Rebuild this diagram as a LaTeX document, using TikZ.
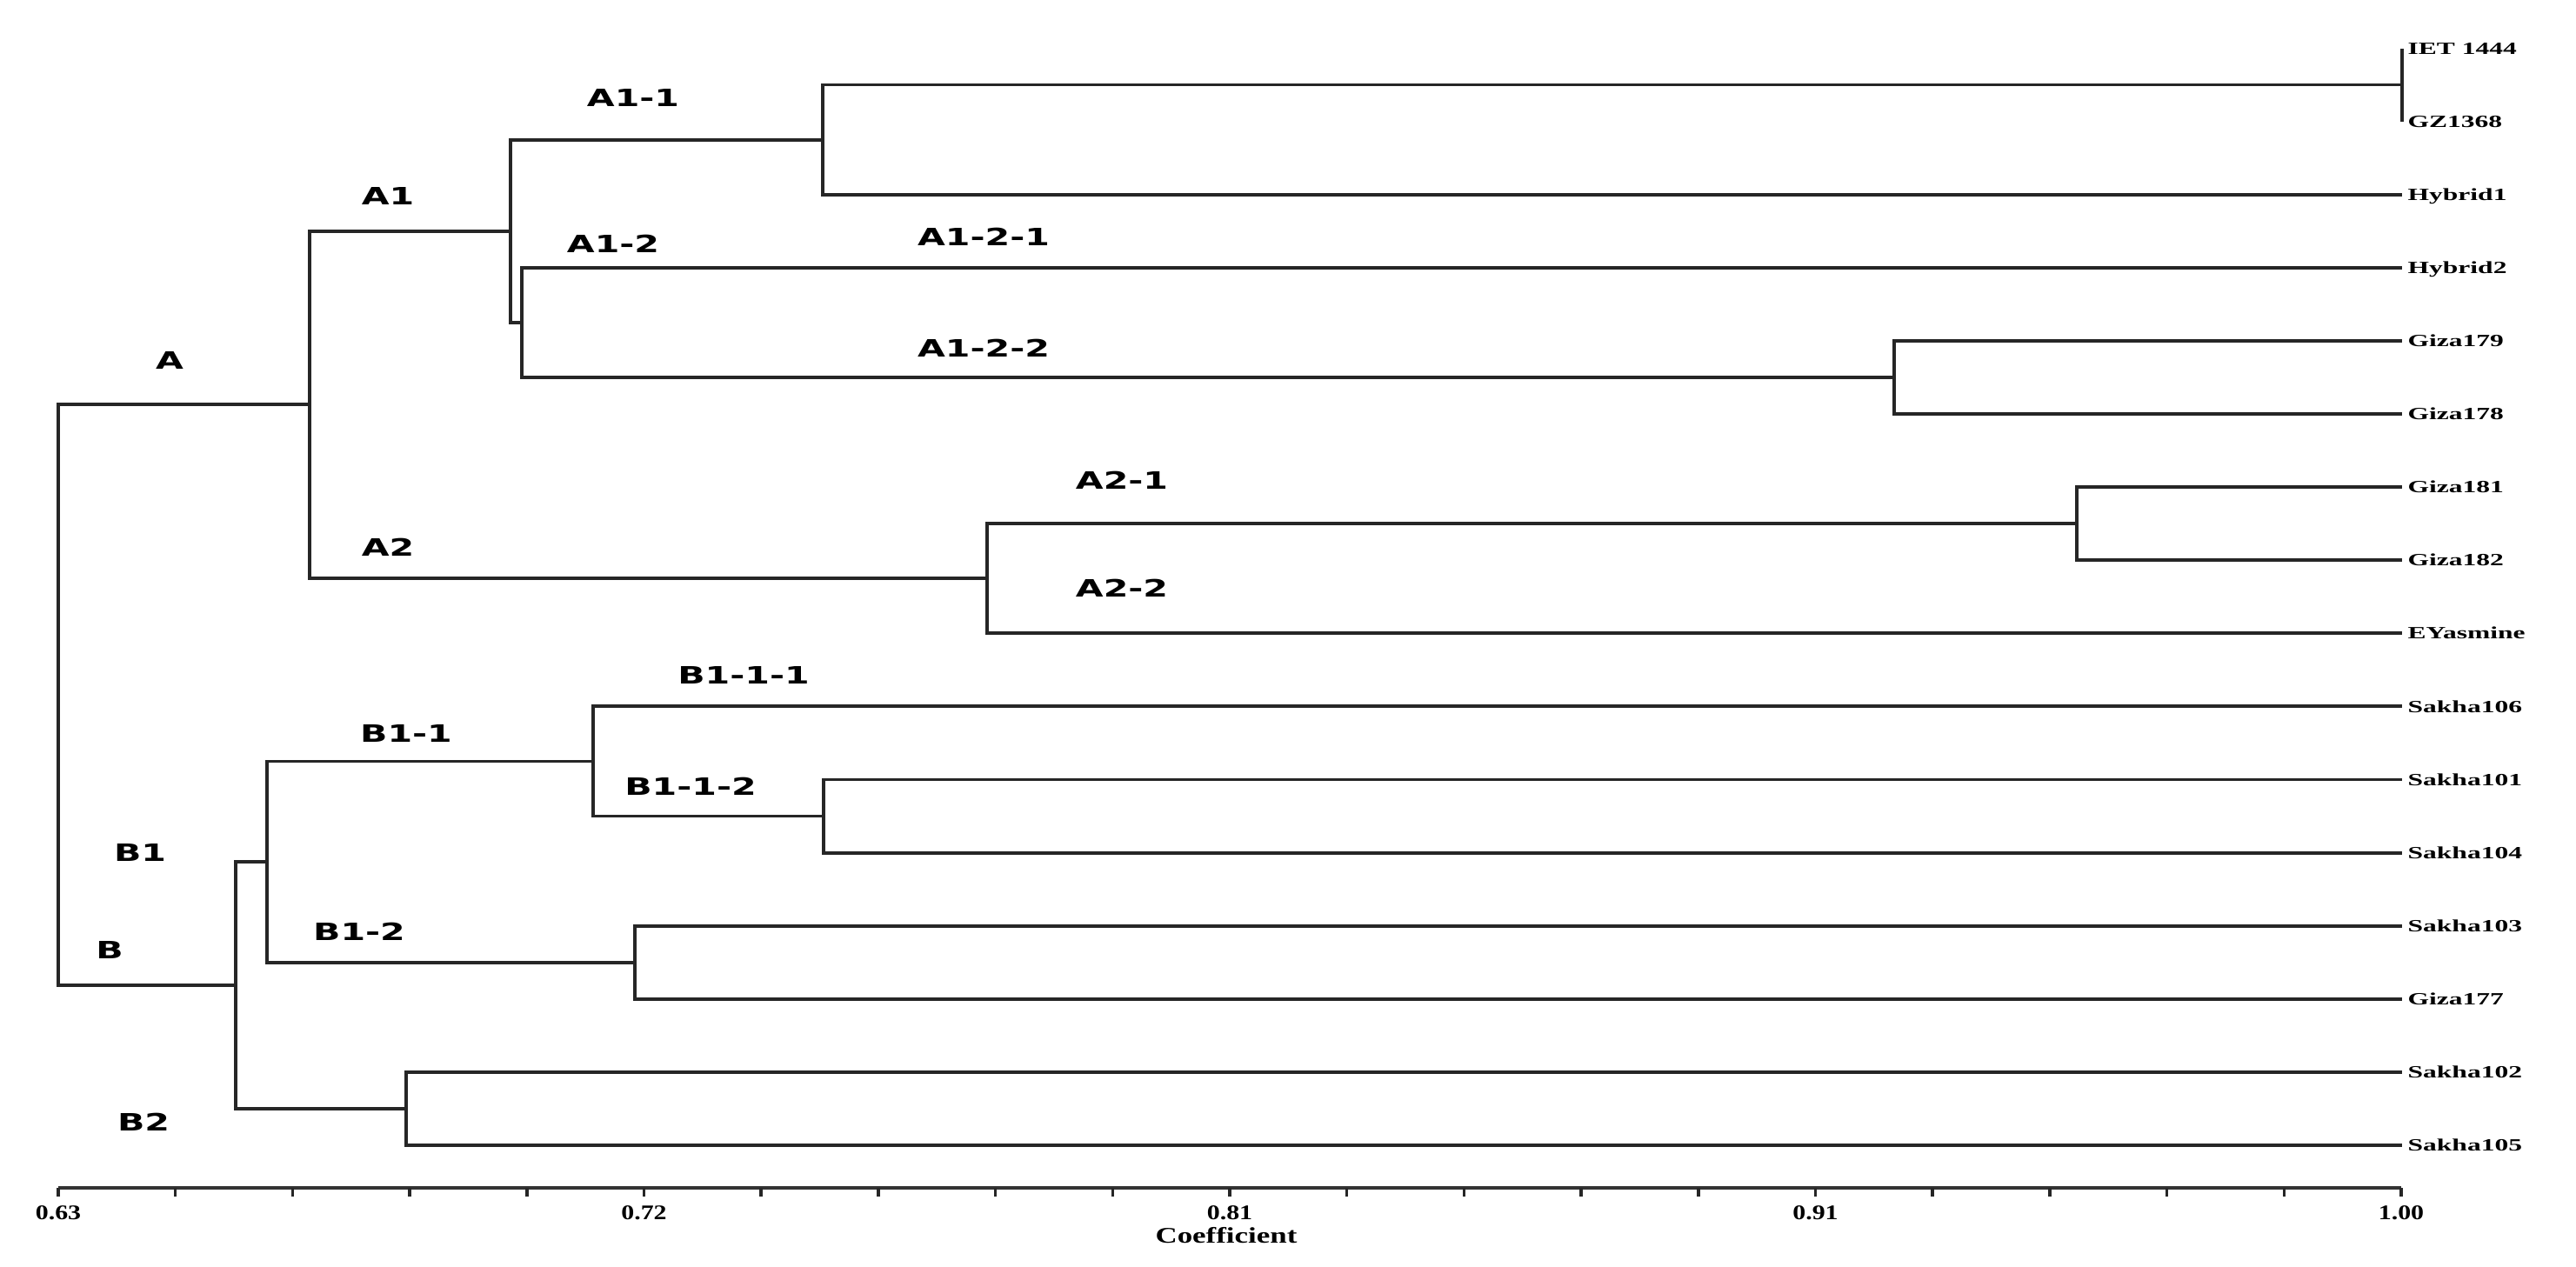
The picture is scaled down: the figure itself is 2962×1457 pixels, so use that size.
\documentclass[tikz,border=0pt]{standalone}
\usepackage{fontspec}
\setmainfont{Liberation Serif}
\newfontfamily\clfont{DejaVu Sans}
\newcommand\clsx[1]{\scalebox{1.5}[1]{#1}}
\newcommand\lfsx[1]{\scalebox{1.6}[1]{#1}}
\newcommand\axsx[1]{\scalebox{1.25}[1]{#1}}
\newcommand\cosx[1]{\scalebox{1.36}[1]{#1}}
\tikzset{
  br/.style={line width=1.1pt, draw=black!85},
  axisline/.style={line width=1.3pt, draw=black!80},
  tickmark/.style={line width=1pt, draw=black!85},
  leaf/.style={anchor=west, inner xsep=1.7pt, inner ysep=0pt, text height=3.8pt, text depth=0pt,
    font=\bfseries\fontsize{5.6}{6}\selectfont},
  cl/.style={inner sep=0pt, font=\clfont\bfseries\fontsize{7.8}{9}\selectfont},
  axl/.style={inner sep=0pt, font=\bfseries\fontsize{6.8}{8}\selectfont},
  coef/.style={inner sep=0pt, font=\bfseries\fontsize{7.3}{8}\selectfont},
}
\begin{document}
\begin{tikzpicture}[x=0.01cm, y=-0.01cm]
\fill[white] (0,0) rectangle (2962,1457);
\useasboundingbox (0,0) rectangle (2962,1457);

% leaves
\node[leaf] (l0)  at (2762,55.5)  {\lfsx{IET 1444}};
\node[leaf] (l1)  at (2762,139.6) {\lfsx{GZ1368}};
\node[leaf] (l2)  at (2762,223.7) {\lfsx{Hybrid1}};
\node[leaf] (l3)  at (2762,307.8) {\lfsx{Hybrid2}};
\node[leaf] (l4)  at (2762,391.9) {\lfsx{Giza179}};
\node[leaf] (l5)  at (2762,476.0) {\lfsx{Giza178}};
\node[leaf] (l6)  at (2762,560.1) {\lfsx{Giza181}};
\node[leaf] (l7)  at (2762,644.2) {\lfsx{Giza182}};
\node[leaf] (l8)  at (2762,728.3) {\lfsx{EYasmine}};
\node[leaf] (l9)  at (2762,812.4) {\lfsx{Sakha106}};
\node[leaf] (l10) at (2762,896.5) {\lfsx{Sakha101}};
\node[leaf] (l11) at (2762,980.6) {\lfsx{Sakha104}};
\node[leaf] (l12) at (2762,1064.7){\lfsx{Sakha103}};
\node[leaf] (l13) at (2762,1148.8){\lfsx{Giza177}};
\node[leaf] (l14) at (2762,1232.9){\lfsx{Sakha102}};
\node[leaf] (l15) at (2762,1317.0){\lfsx{Sakha105}};

% internal nodes
\coordinate (nIG)   at (2762,97.5);
\coordinate (nA11)  at (946,160.6);
\coordinate (nA122) at (2178,434.0);
\coordinate (nA12)  at (600,370.9);
\coordinate (nA1)   at (587,265.7);
\coordinate (nA21)  at (2388,602.2);
\coordinate (nA2)   at (1135,665.2);
\coordinate (nA)    at (356,465.4);
\coordinate (nB112) at (947,938.5);
\coordinate (nB11)  at (682,875.5);
\coordinate (nB12)  at (730,1106.8);
\coordinate (nB1)   at (307,991.1);
\coordinate (nB2)   at (467,1275.0);
\coordinate (nB)    at (271,1133.0);
\coordinate (root)  at (67,799.2);

% connectors
\draw[br] (root) |- (nA);   \draw[br] (root) |- (nB);
\draw[br] (nA) |- (nA1);    \draw[br] (nA) |- (nA2);
\draw[br] (nA1) |- (nA11);  \draw[br] (nA1) |- (nA12);
\draw[br] (nA11) |- (nIG);  \draw[br] (nA11) |- (l2.west);
\draw[br] (nIG) |- (l0.west); \draw[br] (nIG) |- (l1.west);
\draw[br] (nA12) |- (l3.west); \draw[br] (nA12) |- (nA122);
\draw[br] (nA122) |- (l4.west); \draw[br] (nA122) |- (l5.west);
\draw[br] (nA2) |- (nA21);  \draw[br] (nA2) |- (l8.west);
\draw[br] (nA21) |- (l6.west); \draw[br] (nA21) |- (l7.west);
\draw[br] (nB) |- (nB1);    \draw[br] (nB) |- (nB2);
\draw[br] (nB1) |- (nB11);  \draw[br] (nB1) |- (nB12);
\draw[br] (nB11) |- (l9.west); \draw[br] (nB11) |- (nB112);
\draw[br] (nB112) |- (l10.west); \draw[br] (nB112) |- (l11.west);
\draw[br] (nB12) |- (l12.west); \draw[br] (nB12) |- (l13.west);
\draw[br] (nB2) |- (l14.west); \draw[br] (nB2) |- (l15.west);

% cluster labels
\node[cl] (cA)    at (195,414)  {\clsx{A}};
\node[cl] (cA1)   at (446,225)  {\clsx{A1}};
\node[cl] (cA11)  at (728,112)  {\clsx{A1-1}};
\node[cl] (cA12)  at (705,280)  {\clsx{A1-2}};
\node[cl] (cA121) at (1131,272) {\clsx{A1-2-1}};
\node[cl] (cA122) at (1131,400) {\clsx{A1-2-2}};
\node[cl] (cA2)   at (446,629)  {\clsx{A2}};
\node[cl] (cA21)  at (1290,552) {\clsx{A2-1}};
\node[cl] (cA22)  at (1290,676) {\clsx{A2-2}};
\node[cl] (cB111) at (855,776)  {\clsx{B1-1-1}};
\node[cl] (cB11)  at (467,843)  {\clsx{B1-1}};
\node[cl] (cB112) at (794,904)  {\clsx{B1-1-2}};
\node[cl] (cB1)   at (161,980)  {\clsx{B1}};
\node[cl] (cB)    at (126,1092) {\clsx{B}};
\node[cl] (cB12)  at (413,1071) {\clsx{B1-2}};
\node[cl] (cB2)   at (165,1290) {\clsx{B2}};

% axis
\coordinate (ax0) at (67,1366);
\coordinate (ax1) at (2761,1366);
\draw[axisline] (ax0) -- (ax1);
\foreach \i in {0,...,20} {
  \draw[tickmark] ({67+134.7*\i},1366) -- ++(0,10);
}
\node[axl] (v1) at (67,1395)     {\axsx{0.63}};
\node[axl] (v2) at (740.5,1395)  {\axsx{0.72}};
\node[axl] (v3) at (1414,1395)   {\axsx{0.81}};
\node[axl] (v4) at (2087.5,1395) {\axsx{0.91}};
\node[axl] (v5) at (2761,1395)   {\axsx{1.00}};
\node[coef] (coef) at (1410,1421) {\cosx{Coefficient}};
\end{tikzpicture}
\end{document}
